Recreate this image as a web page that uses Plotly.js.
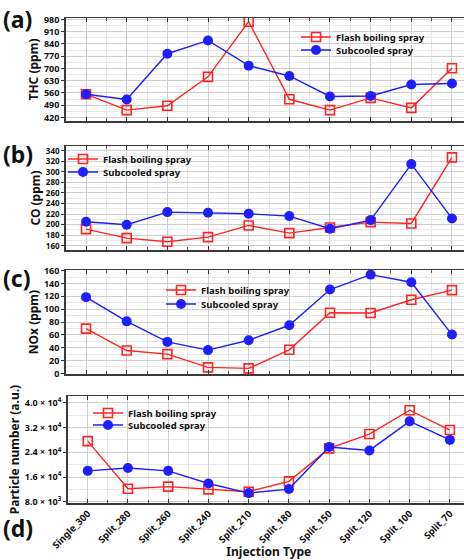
<!DOCTYPE html>
<html>
<head>
<meta charset="utf-8">
<script src="https://cdn.plot.ly/plotly-3.0.1.min.js"></script>
<style>
html,body{margin:0;padding:0;overflow:hidden;background:#fff;width:464px;height:560px;}
#chart{width:480px;height:560px;}
</style>
</head>
<body>
<div id="chart"></div>
<script>
// ---- data ----
const categories = ["Single_300","Split_280","Split_260","Split_240","Split_210","Split_180","Split_150","Split_120","Split_100","Split_70"];
const seriesNames = ["Flash boiling spray","Subcooled spray"];

const thcFlash = [553, 462, 487, 652, 967, 524, 462, 532, 475, 701];
const thcSub   = [553, 523, 784, 860, 716, 657, 540, 543, 608, 614];

const coFlash = [191.6, 174.5, 167.6, 176.4, 198.5, 184.0, 194.7, 204.8, 202.3, 327.4];
const coSub   = [205.5, 199.8, 223.8, 222.5, 220.6, 216.2, 192.2, 208.6, 314.7, 211.8];

const noxFlash = [69.7, 35.6, 30.0, 9.3, 7.8, 36.7, 94.5, 94.0, 114.6, 129.6];
const noxSub   = [118.7, 81.0, 49.0, 36.2, 51.6, 74.9, 130.6, 153.8, 142.0, 60.4];

const pnFlash = [27600, 12200, 12900, 12000, 11250, 14600, 25250, 29900, 37600, 31200];
const pnSub   = [18000, 18900, 18000, 13900, 10800, 12100, 25700, 24600, 34000, 28000];

const pnTickVals = [8000, 16000, 24000, 32000, 40000];
const pnTickText = ["8.0 × 10<sup>3</sup>", "1.6 × 10<sup>4</sup>", "2.4 × 10<sup>4</sup>", "3.2 × 10<sup>4</sup>", "4.0 × 10<sup>4</sup>"];

const panelLabels = ["(a)", "(b)", "(c)", "(d)"];
const yTitles = ["THC (ppm)", "CO (ppm)", "NOx (ppm)", "Particle number (a.u.)"];

// ---- styling ----
const RED = "#ff2424", BLUE = "#1e1eff";
const FONT = "Noto Sans, Open Sans, sans-serif";
const xIdx = categories.map((_, i) => i);
const H = 560, W = 480;
const py = (top, bot) => [1 - bot / H, 1 - top / H];
const px = (l, r) => [l / W, r / W];
const sfx = n => (n === 1 ? "" : String(n));

function flash(y, n) {
  return {x: xIdx, y: y, xaxis: "x" + sfx(n), yaxis: "y" + sfx(n),
    name: seriesNames[0], legend: "legend" + sfx(2 * n - 1), mode: "lines+markers", type: "scatter",
    line: {color: RED, width: 1.4},
    marker: {symbol: "square-open", size: 9, color: RED, line: {width: 1.6, color: RED}}};
}
function sub(y, n) {
  return {x: xIdx, y: y, xaxis: "x" + sfx(n), yaxis: "y" + sfx(n),
    name: seriesNames[1], legend: "legend" + (2 * n), mode: "lines+markers", type: "scatter",
    line: {color: BLUE, width: 1.4},
    marker: {symbol: "circle", size: 10, color: BLUE}};
}

const data = [
  flash(thcFlash, 1), sub(thcSub, 1),
  flash(coFlash, 2), sub(coSub, 2),
  flash(noxFlash, 3), sub(noxSub, 3),
  flash(pnFlash, 4), sub(pnSub, 4)
];

const tickFont = {family: FONT, size: 9, color: "#111", weight: "bold"};
const xTickFont = {family: FONT, size: 9.5, color: "#111", weight: "bold"};
const titleFont = {family: FONT, size: 12, color: "#111", weight: "bold"};
const legFont = {family: FONT, size: 9.5, color: "#111", weight: "bold"};

function xax(dom, anchor, showLabels) {
  return {
    domain: dom, anchor: anchor, range: [-0.5, 9.5], type: "linear",
    tickvals: xIdx, ticktext: categories, showticklabels: showLabels,
    tickangle: -45, tickfont: xTickFont,
    ticks: "inside", ticklen: 4, tickcolor: "#333",
    showline: true, linecolor: "#3a3a3a", linewidth: 1.5, mirror: "ticks",
    showgrid: true, gridcolor: "#cfcfcf", gridwidth: 1, zeroline: false,
    minor: {dtick: 0.5, tick0: 0.5, showgrid: true, gridcolor: "#e8e8e8", ticks: "inside", ticklen: 3, tickcolor: "#555"},
    fixedrange: true
  };
}
function yax(dom, anchor, range, dtick, tick0, title, extra) {
  return Object.assign({
    domain: dom, anchor: anchor, range: range, tick0: tick0, dtick: dtick,
    tickfont: tickFont, ticks: "outside", ticklen: 3, tickcolor: "#333",
    showline: true, linecolor: "#3a3a3a", linewidth: 1.5, mirror: "ticks",
    showgrid: true, gridcolor: "#cfcfcf", gridwidth: 1, zeroline: false,
    minor: {dtick: dtick / 2, tick0: tick0, showgrid: true, gridcolor: "#e8e8e8"},
    title: {text: title, font: titleFont, standoff: 2},
    automargin: false, fixedrange: true
  }, extra || {});
}

const xa = px(65.7, 472.3), xd = px(67.6, 470);

const legBase = {font: legFont, bgcolor: "rgba(0,0,0,0)", borderwidth: 0, xanchor: "left", yanchor: "middle", tracegroupgap: 0, itemwidth: 30};
// legend rows: [left px, center y px]
const legRows = [[296, 37], [296, 50], [63, 159], [63, 172], [161, 290], [161, 304], [88, 413], [88, 425]];

const annotations = [];
const labelY = [19, 154, 278, 528];
panelLabels.forEach((t, i) => {
  annotations.push({text: t, xref: "paper", yref: "paper", x: 1 / W, y: 1 - labelY[i] / H,
    xanchor: "left", yanchor: "middle", showarrow: false,
    font: {family: FONT, size: 23, color: "#111", weight: "bold"}});
});

const layout = {
  width: W, height: H,
  margin: {l: 0, r: 0, t: 0, b: 0},
  paper_bgcolor: "#fff", plot_bgcolor: "#fff",
  showlegend: true,
  xaxis: xax(xa, "y", false),
  xaxis2: xax(xa, "y2", false),
  xaxis3: xax(xa, "y3", false),
  xaxis4: Object.assign(xax(xd, "y4", true), {title: {text: "Injection Type", font: titleFont, standoff: 6}}),
  yaxis: yax(py(18, 121), "x", [400, 988], 70, 420, yTitles[0]),
  yaxis2: yax(py(146, 250), "x2", [152, 349], 20, 160, yTitles[1], {tickfont: Object.assign({}, tickFont, {size: 8})}),
  yaxis3: yax(py(270, 374), "x3", [-1, 161], 20, 0, yTitles[2]),
  yaxis4: yax(py(396, 503), "x4", [7600, 42200], 8000, 8000, yTitles[3],
    {tickmode: "array", tickvals: pnTickVals, ticktext: pnTickText,
     minor: {tickvals: [12000, 20000, 28000, 36000], showgrid: true, gridcolor: "#e8e8e8"}}),
  annotations: annotations
};
legRows.forEach((r, i) => {
  layout["legend" + sfx(i + 1)] = Object.assign({}, legBase, {x: r[0] / W, y: 1 - r[1] / H});
});

Plotly.newPlot("chart", data, layout, {displayModeBar: false, staticPlot: true});
</script>
</body>
</html>
